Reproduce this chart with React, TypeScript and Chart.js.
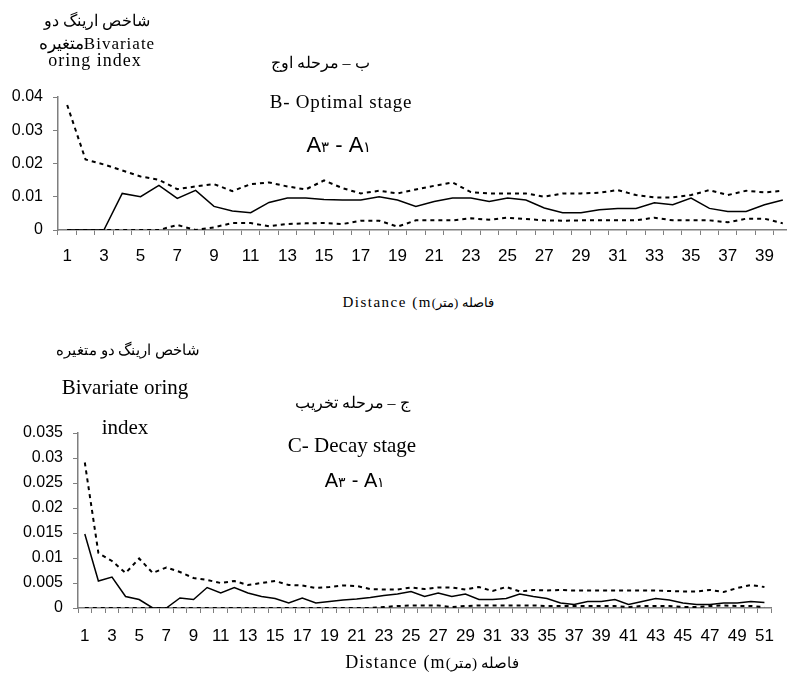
import React, { useEffect, useRef } from "react";
import { Chart, registerables } from "chart.js";

Chart.register(...registerables);

// ---------- Chart B (Optimal stage) ----------
const distanceB = ["1","2","3","4","5","6","7","8","9","10","11","12","13","14","15","16","17","18","19","20",
  "21","22","23","24","25","26","27","28","29","30","31","32","33","34","35","36","37","38","39","40"];
const upperB = [0.0376,0.0212,0.0197,0.0179,0.0161,0.0151,0.0123,0.0131,0.0138,0.0117,
  0.0138,0.0143,0.0131,0.0122,0.0149,0.0126,0.0110,0.0118,0.0110,0.0122,
  0.0133,0.0143,0.0114,0.0110,0.0110,0.0110,0.0100,0.0110,0.0110,0.0112,
  0.0120,0.0105,0.0098,0.0098,0.0105,0.0120,0.0105,0.0118,0.0113,0.0118];
const middleB = [0,0,0,0.0110,0.0100,0.0134,0.0095,0.0119,0.0071,0.0057,
  0.0052,0.0083,0.0096,0.0096,0.0092,0.0090,0.0090,0.0100,0.0090,0.0071,
  0.0086,0.0096,0.0096,0.0086,0.0096,0.0090,0.0066,0.0052,0.0052,0.0061,
  0.0065,0.0065,0.0082,0.0076,0.0096,0.0065,0.0056,0.0056,0.0076,0.0090];
const lowerB = [0,0,0,0,0,0,0.0015,0,0.0008,0.0021,
  0.0021,0.0011,0.0018,0.0020,0.0021,0.0018,0.0028,0.0028,0.0010,0.0029,
  0.0029,0.0029,0.0035,0.0031,0.0037,0.0033,0.0029,0.0028,0.0029,0.0029,
  0.0029,0.0029,0.0037,0.0029,0.0029,0.0029,0.0023,0.0034,0.0034,0.0020];
const yTicksB = [0, 0.01, 0.02, 0.03, 0.04];

// ---------- Chart C (Decay stage) ----------
const distanceC = ["1","2","3","4","5","6","7","8","9","10","11","12","13","14","15","16","17","18","19","20",
  "21","22","23","24","25","26","27","28","29","30","31","32","33","34","35","36","37","38","39","40",
  "41","42","43","44","45","46","47","48","49","50","51"];
const upperC = [0.0291,0.0110,0.0094,0.0070,0.0099,0.0070,0.0081,0.0072,0.0060,0.0056,
  0.0050,0.0054,0.0046,0.0050,0.0054,0.0046,0.0045,0.0040,0.0042,0.0045,
  0.0044,0.0038,0.0037,0.0037,0.0041,0.0038,0.0041,0.0041,0.0037,0.0042,
  0.0034,0.0042,0.0033,0.0036,0.0035,0.0036,0.0035,0.0035,0.0035,0.0035,
  0.0035,0.0035,0.0035,0.0034,0.0033,0.0033,0.0036,0.0032,0.0040,0.0046,0.0042];
const middleC = [0.0148,0.0054,0.0062,0.0023,0.0017,0,0,0.0020,0.0017,0.0041,
  0.0030,0.0041,0.0030,0.0023,0.0019,0.0010,0.0020,0.0010,0.0013,0.0016,
  0.0018,0.0021,0.0025,0.0028,0.0033,0.0023,0.0030,0.0023,0.0028,0.0017,
  0.0017,0.0019,0.0028,0.0023,0.0019,0.0010,0.0007,0.0013,0.0013,0.0017,
  0.0007,0.0013,0.0019,0.0016,0.0010,0.0007,0.0007,0.0010,0.0010,0.0013,0.0011];
const lowerC = [0,0,0,0,0,0,0,0,0,0,
  0,0,0,0,0,0,0,0,0,0,
  0,0,0.0002,0.0004,0.0005,0.0005,0.0005,0.0002,0.0004,0.0005,
  0.0005,0.0005,0.0005,0.0005,0.0004,0.0004,0.0004,0.0004,0.0004,0.0004,
  0.0002,0.0004,0.0004,0.0004,0.0002,0.0002,0.0004,0.0005,0.0004,0.0004,0.0002];
const yTicksC = [0, 0.005, 0.01, 0.015, 0.02, 0.025, 0.03, 0.035];

const SANS = "'Liberation Sans', Arial, sans-serif";
const SERIF = "'Liberation Serif', 'Times New Roman', serif";
const AXIS = "#7f7f7f";

type Area = { left: number; right: number; top: number; bottom: number };

function LineChart(props: {
  left: number; top: number; width: number; height: number; area: Area;
  labels: string[]; upper: number[]; middle: number[]; lower: number[];
  yTicks: number[]; xPad: number;
}) {
  const ref = useRef<HTMLCanvasElement | null>(null);
  useEffect(() => {
    if (!ref.current) return;
    const { area, width, height, labels, yTicks } = props;
    const yMax = yTicks[yTicks.length - 1];
    const chart = new Chart(ref.current, {
      type: "line",
      data: {
        labels,
        datasets: [
          { data: props.upper, borderColor: "#000", borderWidth: 2, borderDash: [4, 4], pointRadius: 0, fill: false, tension: 0 },
          { data: props.middle, borderColor: "#000", borderWidth: 1.5, pointRadius: 0, fill: false, tension: 0 },
          { data: props.lower, borderColor: "#000", borderWidth: 2, borderDash: [4, 4], pointRadius: 0, fill: false, tension: 0 },
        ],
      },
      options: {
        responsive: false,
        animation: false,
        devicePixelRatio: 1,
        layout: { padding: { top: area.top, right: width - area.right, left: 0, bottom: 0 } },
        plugins: { legend: { display: false }, tooltip: { enabled: false }, title: { display: false } },
        scales: {
          x: {
            type: "category",
            offset: true,
            grid: { offset: true, drawOnChartArea: false, drawTicks: true, tickLength: 5, color: AXIS, lineWidth: 1 },
            border: { display: true, color: AXIS, width: 1.5 },
            ticks: {
              autoSkip: false, maxRotation: 0, minRotation: 0, padding: props.xPad, color: "#000",
              font: { family: SANS, size: 17 },
              callback: (_v: any, i: number) => (i % 2 === 0 ? labels[i] : ""),
            },
            afterFit: (s: any) => { s.height = height - area.bottom; },
          },
          y: {
            min: 0,
            max: yMax,
            afterBuildTicks: (s: any) => { s.ticks = yTicks.map((v) => ({ value: v })); },
            grid: { drawOnChartArea: false, drawTicks: true, tickLength: 5, color: AXIS, lineWidth: 1 },
            border: { display: true, color: AXIS, width: 1.5 },
            ticks: {
              padding: 10, color: "#000",
              font: { family: SANS, size: 16 },
              callback: (v: any) => String(parseFloat(Number(v).toFixed(4))),
            },
            afterFit: (s: any) => { s.width = area.left; },
          },
        },
      },
    } as any);
    return () => chart.destroy();
  }, []);
  return (
    <canvas
      ref={ref}
      width={props.width}
      height={props.height}
      style={{ position: "absolute", left: props.left, top: props.top, width: props.width, height: props.height }}
    />
  );
}

function T(props: { x: number; y: number; size: number; font?: string; ls?: number; dir?: "rtl" | "ltr"; children: any }) {
  return (
    <div
      dir={props.dir || "ltr"}
      style={{
        position: "absolute", left: props.x, top: props.y, transform: "translate(-50%, -50%)",
        whiteSpace: "nowrap", lineHeight: 1, fontSize: props.size, fontFamily: props.font || SERIF,
        letterSpacing: props.ls || 0, color: "#000",
      }}
    >
      {props.children}
    </div>
  );
}

function DistanceTitle(props: { x: number; y: number; size: number; ls: number }) {
  return (
    <T x={props.x} y={props.y} size={props.size} ls={props.ls}>
      <span>Distance (m</span>
      <span dir="rtl" style={{ unicodeBidi: "isolate", letterSpacing: 0, fontSize: props.size * 0.85 }}>فاصله (متر)</span>
    </T>
  );
}

function AMinusA(props: { x: number; y: number; size: number }) {
  return (
    <T x={props.x} y={props.y} size={props.size} font={SANS}>
      A<span style={{ fontSize: "0.7em" }}>۳</span> - A<span style={{ fontSize: "0.7em" }}>۱</span>
    </T>
  );
}

export default function App() {
  useEffect(() => {
    document.body.style.margin = "0";
  }, []);
  return (
    <div style={{ position: "relative", width: 787, height: 674, overflow: "hidden", background: "#fff" }}>
      <LineChart
        left={0} top={0} width={800} height={290}
        area={{ left: 58, right: 792, top: 97, bottom: 230 }}
        labels={distanceB} upper={upperB} middle={middleB} lower={lowerB}
        yTicks={yTicksB} xPad={11}
      />
      <LineChart
        left={0} top={330} width={787} height={344}
        area={{ left: 78, right: 775, top: 103, bottom: 278 }}
        labels={distanceC} upper={upperC} middle={middleC} lower={lowerC}
        yTicks={yTicksC} xPad={13}
      />

      {/* Chart B texts */}
      <T x={97} y={21} size={16} dir="rtl">شاخص ارینگ دو</T>
      <T x={97} y={43} size={17} ls={1}>متغیرهBivariate</T>
      <T x={95} y={60} size={18} ls={1}>oring index</T>
      <T x={320} y={63} size={16} dir="rtl">ب – مرحله اوج</T>
      <T x={341} y={101} size={19} ls={0.8}>B- Optimal stage</T>
      <AMinusA x={339} y={145} size={22} />
      <DistanceTitle x={418} y={302} size={15} ls={1.5} />

      {/* Chart C texts */}
      <T x={128} y={350} size={15} dir="rtl">شاخص ارینگ دو متغیره</T>
      <T x={125} y={387} size={21}>Bivariate oring</T>
      <T x={125} y={427} size={21}>index</T>
      <T x={352} y={403} size={16} dir="rtl">ج – مرحله تخریب</T>
      <T x={352} y={445} size={21}>C- Decay stage</T>
      <AMinusA x={355} y={480} size={20} />
      <DistanceTitle x={432} y={662} size={18} ls={1.2} />
    </div>
  );
}
